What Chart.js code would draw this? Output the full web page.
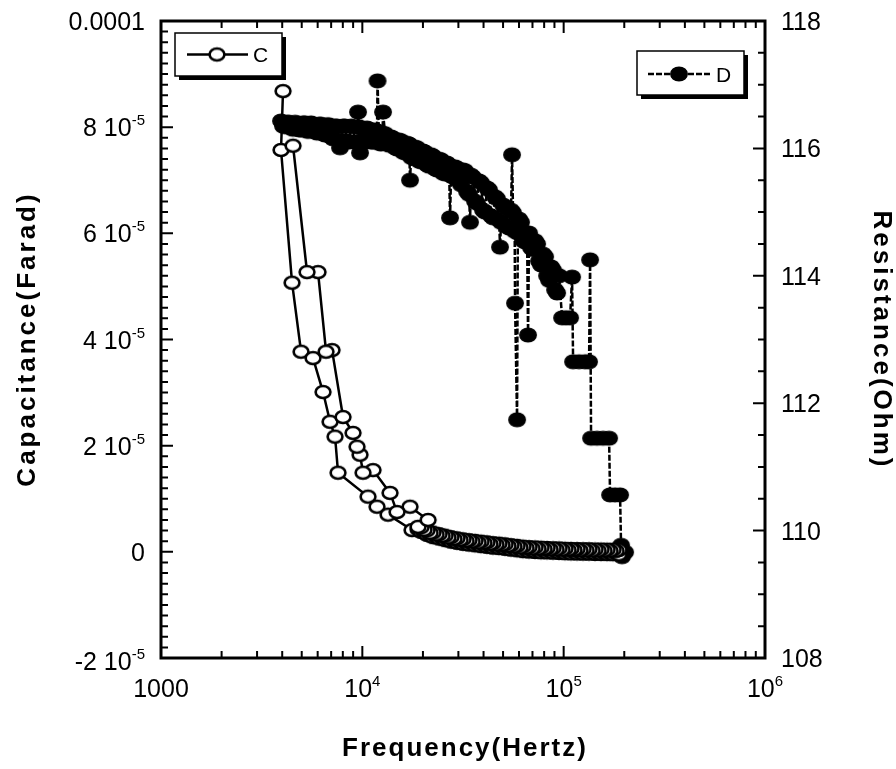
<!DOCTYPE html>
<html>
<head>
<meta charset="utf-8">
<script src="https://cdn.jsdelivr.net/npm/chart.js@4.4.1/dist/chart.umd.min.js"></script>
<style>
  html, body { margin: 0; padding: 0; background: #fff; }
  #wrap { width: 896px; height: 769px; }
</style>
</head>
<body>
<div id="wrap"><canvas id="cv" width="896" height="769"></canvas></div>
<script>
// --- Data ---
// Capacitance values are in units of 1e-5 F.
// Up sweep, low frequency part (Hz)
const capHeadUpHz = [4037, 3946, 4476, 4962, 5690, 6381, 6913, 7320, 7576, 10670, 11830, 13420, 17660];
const capHeadUpF = [8.68, 7.57, 5.07, 3.77, 3.65, 3.01, 2.45, 2.17, 1.49, 1.04, 0.85, 0.70, 0.41];

// High frequency tail, same frequencies for both sweeps
const capTailHz = [18910, 19570, 20250, 20960, 21700, 22450, 23240, 24050, 24890, 25760,
  26650, 27580, 28550, 29540, 30580, 31640, 32750, 33890, 35080, 36300,
  37570, 38880, 40230, 41640, 43090, 44590, 46150, 47760, 49430, 51160,
  52940, 54790, 56700, 58690, 60730, 62850, 65050, 67320, 69670, 72100,
  74620, 77230, 79930, 82710, 85600, 88600, 91680, 94880, 98190, 101600,
  105200, 108800, 112600, 116600, 120600, 124900, 129200, 133700, 138400, 143200,
  148200, 153400, 158800, 164300, 170000, 176000, 182100, 188400];
const capTailUpF = [0.424, 0.377, 0.367, 0.320, 0.311, 0.277, 0.282, 0.249, 0.254, 0.220,
  0.226, 0.192, 0.198, 0.169, 0.179, 0.151, 0.160, 0.136, 0.151, 0.122,
  0.132, 0.107, 0.122, 0.094, 0.104, 0.079, 0.094, 0.070, 0.085, 0.056,
  0.066, 0.041, 0.056, 0.028, 0.038, 0.013, 0.028, 0.004, 0.019, -0.002,
  0.013, -0.008, 0.009, -0.011, 0.004, -0.017, 0.000, -0.021, -0.006, -0.026,
  -0.009, -0.030, -0.011, -0.032, -0.015, -0.034, -0.017, -0.036, -0.019, -0.040,
  -0.021, -0.041, -0.024, -0.043, -0.026, -0.045, -0.028, -0.047];
const capTailDownF = [0.471, 0.461, 0.414, 0.405, 0.358, 0.362, 0.330, 0.333, 0.301, 0.305,
  0.273, 0.277, 0.245, 0.254, 0.226, 0.235, 0.207, 0.220, 0.198, 0.207,
  0.179, 0.192, 0.169, 0.179, 0.151, 0.164, 0.141, 0.154, 0.132, 0.141,
  0.113, 0.126, 0.104, 0.113, 0.085, 0.098, 0.075, 0.089, 0.066, 0.083,
  0.060, 0.077, 0.056, 0.073, 0.051, 0.068, 0.047, 0.064, 0.041, 0.058,
  0.038, 0.055, 0.036, 0.053, 0.032, 0.051, 0.030, 0.049, 0.028, 0.045,
  0.026, 0.043, 0.023, 0.041, 0.021, 0.040, 0.019, 0.038];

// Down sweep, back to low frequency (in drawing order)
const capHeadDownHz = [21210, 17260, 14870, 13730, 11300, 10080, 9741, 9411, 8991, 8020, 7073, 6604, 6025, 5313, 4527];
const capHeadDownF = [0.60, 0.85, 0.75, 1.11, 1.54, 1.49, 1.83, 1.98, 2.24, 2.54, 3.80, 3.77, 5.27, 5.27, 7.65];

// Resistance (Hz / Ohm)
const resHz = [3946, 4037, 4130, 4227, 4324, 4425, 4527, 4632, 4740, 4850,
  4962, 5077, 5195, 5313, 5439, 5564, 5690, 5824, 5957, 6096,
  6236, 6381, 6529, 6679, 6834, 6992, 7154, 7320, 7488, 7662,
  7749, 7839, 8020, 8206, 8395, 8590, 8788, 8991, 9199, 9411,
  9520, 9630, 9741, 9852, 10080, 10310, 10550, 10800, 11050, 11300,
  11560, 11830, 11900, 12110, 12380, 12600, 12670, 12970, 13270, 13570,
  13890, 14210, 14540, 14870, 15220, 15570, 15930, 16300, 16680, 17060,
  17260, 17460, 17860, 18270, 18700, 19130, 19570, 20020, 20490, 20960,
  21450, 21950, 22450, 22970, 23500, 24050, 24600, 25170, 25760, 26350,
  26960, 27270, 27580, 28220, 28870, 29540, 30230, 30930, 31640, 32370,
  33130, 33890, 34280, 34670, 35470, 36300, 37130, 37990, 38880, 39770,
  40690, 41640, 42600, 43590, 44590, 45630, 46680, 47760, 48310, 48870,
  50020, 51160, 52340, 53550, 54790, 55420, 56060, 57100, 57350, 58690,
  59200, 60030, 61430, 62850, 64310, 65790, 66550, 67320, 68870, 70470,
  72100, 73780, 75470, 77230, 78990, 80850, 82710, 84630, 86580, 88600,
  90640, 92740, 94880, 98190, 102800, 107600, 110100, 111400, 119300, 127700,
  133700, 135300, 136800, 146500, 157000, 168100, 170000, 180000, 190600, 192800,
  201900, 195000];
const resOhm = [116.43, 116.35, 116.34, 116.41, 116.41, 116.32, 116.30, 116.41, 116.40, 116.29,
  116.29, 116.40, 116.40, 116.27, 116.27, 116.40, 116.38, 116.26, 116.24, 116.38,
  116.38, 116.23, 116.21, 116.37, 116.37, 116.18, 116.15, 116.35, 116.35, 116.13,
  116.01, 116.12, 116.35, 116.35, 116.12, 116.10, 116.35, 116.34, 116.10, 116.10,
  116.57, 116.34, 115.93, 116.32, 116.10, 116.10, 116.32, 116.30, 116.10, 116.10,
  116.29, 116.27, 117.06, 116.08, 116.07, 116.24, 116.57, 116.23, 116.07, 116.05,
  116.18, 116.16, 116.01, 115.99, 116.13, 116.12, 115.94, 115.93, 116.08, 116.07,
  115.50, 115.86, 115.85, 116.02, 116.01, 115.80, 115.79, 115.96, 115.94, 115.74,
  115.72, 115.90, 115.88, 115.68, 115.66, 115.83, 115.82, 115.61, 115.60, 115.77,
  115.74, 114.91, 115.57, 115.55, 115.71, 115.69, 115.49, 115.43, 115.66, 115.65,
  115.32, 115.28, 114.84, 115.58, 115.55, 115.17, 115.14, 115.49, 115.46, 115.03,
  115.00, 115.38, 115.35, 114.94, 114.91, 115.24, 115.21, 114.88, 114.45, 114.84,
  115.11, 115.08, 114.78, 114.75, 115.03, 115.90, 114.99, 114.70, 113.57, 111.74,
  114.67, 114.89, 114.84, 114.56, 114.53, 114.67, 113.07, 114.67, 114.44, 114.41,
  114.55, 114.50, 114.23, 114.17, 114.34, 114.30, 114.00, 113.93, 114.14, 114.09,
  113.78, 113.73, 114.00, 113.34, 113.34, 113.34, 113.98, 112.65, 112.65, 112.65,
  112.65, 114.25, 111.45, 111.45, 111.45, 111.45, 110.56, 110.56, 110.56, 109.77,
  109.66, 109.59];

// Ticks
const freqTicks = [1000, 1e4, 1e5, 1e6];
const freqTickLabels = [['1000', ''], ['10', '4'], ['10', '5'], ['10', '6']];
const capTicks = [-2e-5, 0, 2e-5, 4e-5, 6e-5, 8e-5, 1e-4];
const capTickLabels = [['-2 10', '-5'], ['0', ''], ['2 10', '-5'], ['4 10', '-5'],
  ['6 10', '-5'], ['8 10', '-5'], ['0.0001', '']];
const resTicks = [108, 110, 112, 114, 116, 118];

const FONT = '"Liberation Sans", Arial, sans-serif';

// --- Markers ---
function makeMark(filled) {
    const c = document.createElement('canvas');
    c.width = 20;
    c.height = 18;
    const g = c.getContext('2d');
    g.beginPath();
    if (filled) g.ellipse(10, 9, 8.2, 6.8, 0, 0, Math.PI * 2);
    else g.ellipse(10, 9, 7.4, 6.0, 0, 0, Math.PI * 2);
    g.fillStyle = filled ? '#000' : '#fff';
    g.fill();
    g.lineWidth = filled ? 1.5 : 2.6;
    g.strokeStyle = '#000';
    g.stroke();
    return c;
}
const openMark = makeMark(false);
const filledMark = makeMark(true);

// --- Axis decoration, labels, legend boxes ---
function drawTickLabel(ctx, base, sup, x, baseline, align) {
    ctx.font = '25px ' + FONT;
    const wb = ctx.measureText(base).width;
    ctx.font = '15px ' + FONT;
    const ws = sup ? ctx.measureText(sup).width : 0;
    const total = wb + ws;
    const left = align === 'right' ? x - total : align === 'center' ? x - total / 2 : x;
    ctx.textAlign = 'left';
    ctx.font = '25px ' + FONT;
    ctx.fillText(base, left, baseline);
    if (sup) {
        ctx.font = '15px ' + FONT;
        ctx.fillText(sup, left + wb, baseline - 11);
    }
}

function legendBox(ctx, x, y, w, h) {
    ctx.fillStyle = '#000';
    ctx.fillRect(x + 4, y + 4, w, h);
    ctx.fillStyle = '#fff';
    ctx.fillRect(x, y, w, h);
    ctx.lineWidth = 1.5;
    ctx.strokeStyle = '#000';
    ctx.strokeRect(x, y, w, h);
}

const axisDecor = {
    id: 'axisDecor',
    afterDraw(chart) {
        const { ctx, chartArea: a, scales } = chart;
        const xs = scales.x, yl = scales.yCap, yr = scales.yRes;
        ctx.save();
        ctx.strokeStyle = '#000';
        ctx.fillStyle = '#000';

        // ticks, all pointing into the plot
        ctx.lineWidth = 2;
        ctx.beginPath();
        for (let d = 1000; d < 1e6; d *= 10) {
            for (let m = 1; m < 10; m++) {
                const px = xs.getPixelForValue(d * m);
                const len = m === 1 ? 12 : 7;
                ctx.moveTo(px, a.bottom); ctx.lineTo(px, a.bottom - len);
                ctx.moveTo(px, a.top); ctx.lineTo(px, a.top + len);
            }
        }
        for (let i = 0; i <= 60; i++) {
            const py = yl.getPixelForValue(-2e-5 + i * 2e-6);
            ctx.moveTo(a.left, py); ctx.lineTo(a.left + (i % 10 === 0 ? 12 : 7), py);
        }
        for (let i = 0; i <= 20; i++) {
            const py = yr.getPixelForValue(108 + i * 0.5);
            ctx.moveTo(a.right, py); ctx.lineTo(a.right - (i % 4 === 0 ? 12 : 7), py);
        }
        ctx.stroke();

        // frame
        ctx.lineWidth = 3;
        ctx.strokeRect(a.left, a.top, a.right - a.left, a.bottom - a.top);

        // tick labels
        ctx.textBaseline = 'alphabetic';
        capTicks.forEach((v, i) => {
            const [b, s] = capTickLabels[i];
            const nudge = v < 0 ? 3 : 0;
            drawTickLabel(ctx, b, s, a.left - 16, yl.getPixelForValue(v) + 9 + nudge, 'right');
        });
        resTicks.forEach(v => {
            drawTickLabel(ctx, String(v), '', a.right + 16, yr.getPixelForValue(v) + 9, 'left');
        });
        freqTicks.forEach((v, i) => {
            const [b, s] = freqTickLabels[i];
            drawTickLabel(ctx, b, s, xs.getPixelForValue(v), a.bottom + 39, 'center');
        });

        // axis titles
        ctx.font = 'bold 26px ' + FONT;
        ctx.textAlign = 'center';
        ctx.textBaseline = 'middle';
        ctx.letterSpacing = '2px';
        ctx.fillText('Frequency(Hertz)', 465, 749);
        ctx.letterSpacing = '3px';
        ctx.save();
        ctx.translate(28, 339);
        ctx.rotate(-Math.PI / 2);
        ctx.fillText('Capacitance(Farad)', 0, 0);
        ctx.restore();
        ctx.save();
        ctx.translate(881, 340);
        ctx.rotate(Math.PI / 2);
        ctx.fillText('Resistance(Ohm)', 0, 0);
        ctx.restore();
        ctx.letterSpacing = '0px';

        // legend boxes
        ctx.textAlign = 'left';
        ctx.textBaseline = 'alphabetic';
        legendBox(ctx, 175, 33, 107, 43);
        ctx.lineWidth = 2.5;
        ctx.beginPath();
        ctx.moveTo(187, 54.5); ctx.lineTo(248, 54.5);
        ctx.stroke();
        ctx.drawImage(openMark, 217 - 10, 54.5 - 9);
        ctx.fillStyle = '#000';
        ctx.font = '21px ' + FONT;
        ctx.fillText('C', 253, 62);

        legendBox(ctx, 637, 51, 107, 44);
        ctx.lineWidth = 2.5;
        ctx.setLineDash([6, 2]);
        ctx.beginPath();
        ctx.moveTo(648, 74); ctx.lineTo(710, 74);
        ctx.stroke();
        ctx.setLineDash([]);
        ctx.drawImage(filledMark, 679 - 10, 74 - 9);
        ctx.fillStyle = '#000';
        ctx.fillText('D', 716, 82);

        ctx.restore();
    }
};

// --- Chart ---
// up sweep, then the return sweep drawn back from high to low frequency
const capPoints = [];
capHeadUpHz.forEach((f, i) => capPoints.push({ x: f, y: capHeadUpF[i] * 1e-5 }));
capTailHz.forEach((f, i) => capPoints.push({ x: f, y: capTailUpF[i] * 1e-5 }));
for (let i = capTailHz.length - 1; i >= 0; i--) {
    capPoints.push({ x: capTailHz[i], y: capTailDownF[i] * 1e-5 });
}
capHeadDownHz.forEach((f, i) => capPoints.push({ x: f, y: capHeadDownF[i] * 1e-5 }));

const resPoints = resHz.map((f, i) => ({ x: f, y: resOhm[i] }));

new Chart(document.getElementById('cv'), {
    type: 'scatter',
    data: {
        datasets: [
            {
                label: 'C',
                data: capPoints,
                yAxisID: 'yCap',
                showLine: true,
                borderColor: '#000',
                borderWidth: 2.5,
                borderJoinStyle: 'round',
                pointStyle: openMark,
                pointRadius: 7
            },
            {
                label: 'D',
                data: resPoints,
                yAxisID: 'yRes',
                showLine: true,
                borderColor: '#000',
                borderWidth: 2.5,
                borderDash: [6, 2],
                borderJoinStyle: 'round',
                pointStyle: filledMark,
                pointRadius: 7
            }
        ]
    },
    options: {
        responsive: false,
        animation: false,
        devicePixelRatio: 1,
        events: [],
        layout: { padding: { left: 161, right: 131, top: 21, bottom: 111 } },
        scales: {
            x: { type: 'logarithmic', min: 1000, max: 1e6, display: false },
            yCap: { type: 'linear', position: 'left', min: -2e-5, max: 1e-4, display: false },
            yRes: { type: 'linear', position: 'right', min: 108, max: 118, display: false }
        },
        plugins: {
            legend: { display: false },
            tooltip: { enabled: false }
        }
    },
    plugins: [axisDecor]
});
</script>
</body>
</html>
